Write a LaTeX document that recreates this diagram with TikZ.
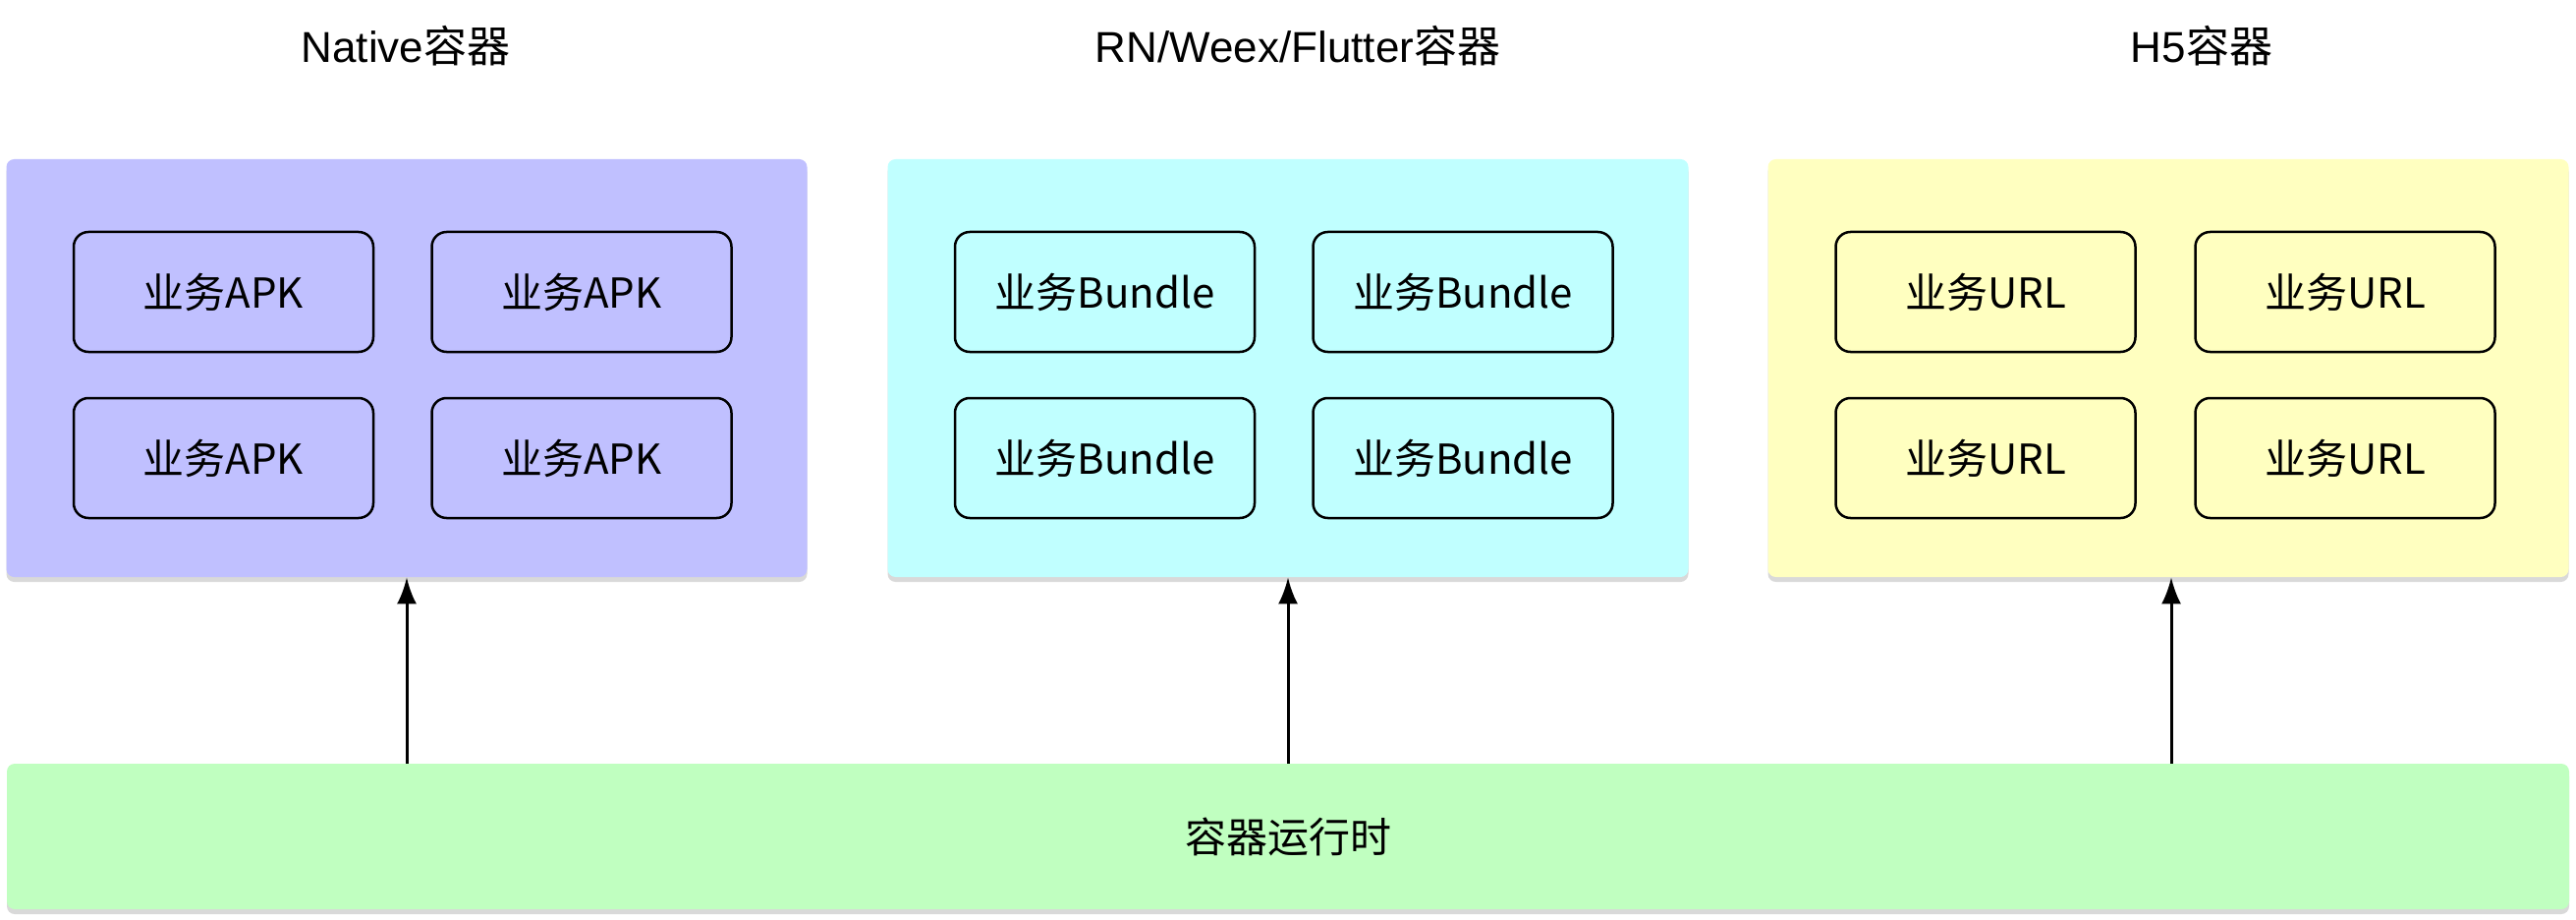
\documentclass[tikz,border=0pt]{standalone}
\usepackage{fontspec}
\setmainfont{Liberation Sans}
\newfontfamily\cjk{Noto Sans CJK SC}
\usetikzlibrary{arrows.meta,shadows}
\definecolor{cnative}{HTML}{C0C0FF}
\definecolor{crn}{HTML}{C0FFFF}
\definecolor{ch5}{HTML}{FFFFC0}
\definecolor{cgreen}{HTML}{C0FFC0}
\tikzset{
  container/.style={draw=none, rounded corners=4pt, minimum width=407.5pt, minimum height=212.5pt,
    drop shadow={shadow xshift=0pt, shadow yshift=-2.5pt, fill=black, opacity=0.15}},
  runtime/.style={draw=none, rounded corners=4pt, minimum width=1304pt, minimum height=74pt,
    drop shadow={shadow xshift=0pt, shadow yshift=-2.5pt, fill=black, opacity=0.15},
    font=\fontsize{21}{25}\selectfont},
  inner/.style={draw=black, line width=1.25pt, rounded corners=7.5pt, minimum width=152.5pt, minimum height=61pt,
    font=\fontsize{21}{25}\selectfont},
  title/.style={font=\fontsize{22}{26}\selectfont},
  uparrow/.style={-{Latex[length=13.5pt,width=10pt]}, line width=1.5pt}
}
\begin{document}
\begin{tikzpicture}[x=0.5pt,y=-0.5pt]
\useasboundingbox[fill=white] (0,0) rectangle (2622,936);
% titles
\node[title] (t1) at (413,47) {Native\cjk{容器}};
\node[title] (t2) at (1321,47) {RN/Weex/Flutter\cjk{容器}};
\node[title] (t3) at (2241,47) {H5\cjk{容器}};
% containers
\node[container, fill=cnative] (native) at (414,374.5) {};
\node[container, fill=crn] (rn) at (1311,374.5) {};
\node[container, fill=ch5] (h5) at (2207,374.5) {};
% runtime
\node[runtime, fill=cgreen] (runtime) at (1311,851) {\cjk{容器运行时}};
% inner boxes
\node[inner] (n1) at (227.5,297) {\cjk{业务}APK};
\node[inner] (n2) at (592,297) {\cjk{业务}APK};
\node[inner] (n3) at (227.5,466) {\cjk{业务}APK};
\node[inner] (n4) at (592,466) {\cjk{业务}APK};
\node[inner] (r1) at (1124.5,297) {\cjk{业务}Bundle};
\node[inner] (r2) at (1489,297) {\cjk{业务}Bundle};
\node[inner] (r3) at (1124.5,466) {\cjk{业务}Bundle};
\node[inner] (r4) at (1489,466) {\cjk{业务}Bundle};
\node[inner] (h1) at (2021,297) {\cjk{业务}URL};
\node[inner] (h2) at (2387,297) {\cjk{业务}URL};
\node[inner] (h3) at (2021,466) {\cjk{业务}URL};
\node[inner] (h4) at (2387,466) {\cjk{业务}URL};
% arrows
\draw[uparrow] (native.south |- runtime.north) -- (native.south);
\draw[uparrow] (rn.south |- runtime.north) -- (rn.south);
\draw[uparrow] ([xshift=1.5pt]h5.south |- runtime.north) -- ([xshift=1.5pt]h5.south);
\end{tikzpicture}
\end{document}
